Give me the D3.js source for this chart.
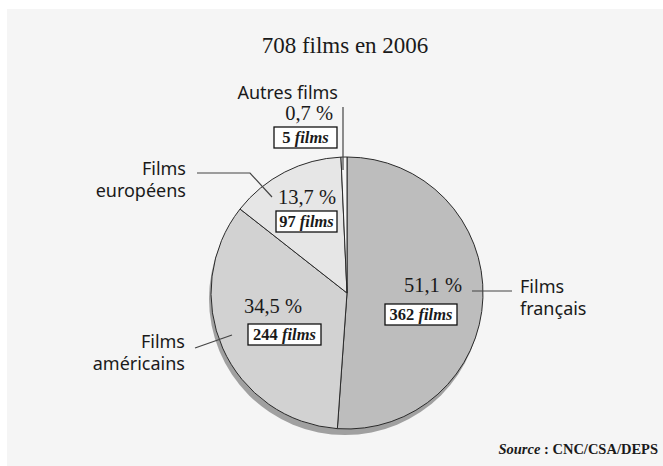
<!DOCTYPE html>
<html>
<head>
<meta charset="utf-8">
<script src="https://cdn.jsdelivr.net/npm/d3@7"></script>
<style>
  body { margin: 0; background: #fff; }
  svg text { fill: #1a1a1a; }
</style>
</head>
<body>
<div id="chart"></div>
<script>
// data
const categories = ['Films français', 'Films américains', 'Films européens', 'Autres films'];
const films = [362, 244, 97, 5];
const percents = ['51,1 %', '34,5 %', '13,7 %', '0,7 %'];
const fills = ['#bdbdbd', '#d2d2d2', '#e6e6e6', '#f6f6f6'];

const width = 663, height = 466;
const cx = 347, cy = 293, radius = 136;

const svg = d3.select('#chart').append('svg')
    .attr('width', width)
    .attr('height', height);

// light panel behind the chart
svg.append('rect')
    .attr('x', 7).attr('y', 9)
    .attr('width', width - 7).attr('height', height - 9)
    .attr('fill', '#f5f5f5');

svg.append('text')
    .attr('x', 345).attr('y', 53)
    .attr('text-anchor', 'middle')
    .style('font-family', 'Liberation Serif')
    .style('font-size', '23px')
    .text('708 films en 2006');

const pie = d3.pie().sort(null).value(d => d);
const arcs = pie(films);
const arc = d3.arc().innerRadius(0).outerRadius(radius);

const g = svg.append('g').attr('transform', `translate(${cx}, ${cy})`);

// drop shadow
g.append('circle')
    .attr('cx', -2).attr('cy', 6)
    .attr('r', radius)
    .attr('fill', '#a0a0a0');

g.selectAll('path.slice')
    .data(arcs)
    .enter().append('path')
    .attr('class', 'slice')
    .attr('d', arc)
    .attr('fill', (d, i) => fills[i])
    .attr('stroke', '#2a2a2a')
    .attr('stroke-width', 1);

// label layout (positions relative to the page)
const labels = [
    { name: ['Films', 'français'], nx: 520, ny: 293, anchor: 'start',
      px: 462, py: 292, bx: 385, by: 304, bw: 72,
      leader: [[472, 291], [512, 291]] },
    { name: ['Films', 'américains'], nx: 185, ny: 348, anchor: 'end',
      px: 302, py: 313, bx: 248, by: 324, bw: 73,
      leader: [[195, 348], [232, 335]] },
    { name: ['Films', 'européens'], nx: 186, ny: 175, anchor: 'end',
      px: 336, py: 204, bx: 276, by: 211, bw: 61,
      leader: [[197, 173], [250, 173], [272, 197]] },
    { name: ['Autres films'], nx: 338, ny: 99, anchor: 'end',
      px: 333, py: 120, bx: 274, by: 127, bw: 63,
      leader: [[343, 107], [343, 170]] },
];

const line = d3.line();

labels.forEach((l, i) => {
    svg.append('path')
        .attr('d', line(l.leader))
        .attr('fill', 'none')
        .attr('stroke', '#444')
        .attr('stroke-width', 1.2);

    const t = svg.append('text')
        .attr('x', l.nx).attr('y', l.ny)
        .attr('text-anchor', l.anchor)
        .style('font-family', 'Noto Sans')
        .style('font-size', '18px');
    l.name.forEach((s, j) => {
        t.append('tspan').attr('x', l.nx).attr('dy', j === 0 ? 0 : 22).text(s);
    });

    svg.append('text')
        .attr('x', l.px).attr('y', l.py)
        .attr('text-anchor', 'end')
        .style('font-family', 'Liberation Serif')
        .style('font-size', '20.5px')
        .text(percents[i]);

    svg.append('rect')
        .attr('x', l.bx).attr('y', l.by)
        .attr('width', l.bw).attr('height', 21)
        .attr('fill', '#fff')
        .attr('stroke', '#111')
        .attr('stroke-width', 1.3);

    const bt = svg.append('text')
        .attr('x', l.bx + l.bw / 2).attr('y', l.by + 16)
        .attr('text-anchor', 'middle')
        .style('font-family', 'Liberation Serif')
        .style('font-size', '16.5px')
        .style('font-weight', 'bold');
    bt.append('tspan').text(films[i] + ' ');
    bt.append('tspan').style('font-style', 'italic').text('films');
});

const src = svg.append('text')
    .attr('x', 658).attr('y', 454)
    .attr('text-anchor', 'end')
    .style('font-family', 'Liberation Serif')
    .style('font-size', '14.5px')
    .style('font-weight', 'bold');
src.append('tspan').style('font-style', 'italic').text('Source');
src.append('tspan').text(' : CNC/CSA/DEPS');
</script>
</body>
</html>
